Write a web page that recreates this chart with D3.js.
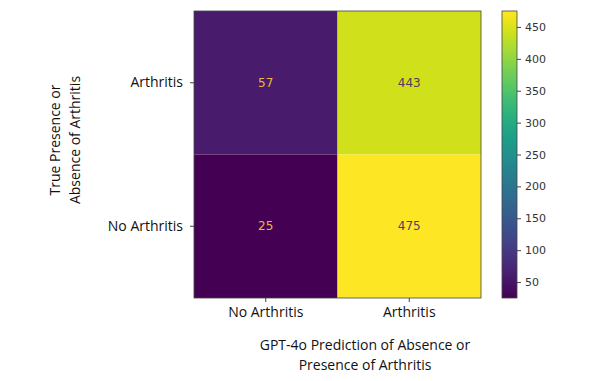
<!DOCTYPE html>
<html>
<head>
<meta charset="utf-8">
<script src="https://cdn.jsdelivr.net/npm/d3@7"></script>
<style>
  body { margin: 0; background: #fff; }
  .lbl { font-family: "Open Sans", "Noto Sans", sans-serif; font-size: 14px; fill: #111; }
  .cbar text { font-family: "DejaVu Sans", sans-serif; font-size: 11px; fill: #333; }
</style>
</head>
<body>
<div id="chart"></div>
<script>
// confusion matrix values
const rowLabels = ["Arthritis", "No Arthritis"];     // true (top to bottom)
const colLabels = ["No Arthritis", "Arthritis"];     // predicted (left to right)
const counts = [
  [57, 443],
  [25, 475]
];
const cbarTicks = [50, 100, 150, 200, 250, 300, 350, 400, 450];

const width = 600, height = 381;
const plot = {left: 194, top: 11, right: 481, bottom: 298};

const svg = d3.select("#chart").append("svg")
  .attr("width", width)
  .attr("height", height);

const cells = [];
counts.forEach((row, i) => row.forEach((v, j) => cells.push({r: rowLabels[i], c: colLabels[j], v: v})));

const vmin = d3.min(cells, d => d.v), vmax = d3.max(cells, d => d.v);
const color = d3.scaleSequential(d3.interpolateViridis).domain([vmin, vmax]);

const x = d3.scaleBand().domain(colLabels).range([plot.left, plot.right]);
const y = d3.scaleBand().domain(rowLabels).range([plot.top, plot.bottom]);

// cells
svg.append("g")
  .selectAll("rect")
  .data(cells)
  .join("rect")
  .attr("x", d => x(d.c))
  .attr("y", d => y(d.r))
  .attr("width", x.bandwidth())
  .attr("height", y.bandwidth())
  .attr("fill", d => color(d.v));

// annotations - light text on dark cells, dark on light
const mid = (vmin + vmax) / 2;
svg.append("g")
  .selectAll("text")
  .data(cells)
  .join("text")
  .attr("x", d => x(d.c) + x.bandwidth() / 2)
  .attr("y", d => y(d.r) + y.bandwidth() / 2)
  .attr("dy", "0.35em")
  .attr("text-anchor", "middle")
  .style("font-family", "DejaVu Sans, sans-serif")
  .style("font-size", "12px")
  .attr("fill", d => d.v < mid ? "#e8b840" : "#5a3a5a")
  .text(d => d.v);

// frame
svg.append("rect")
  .attr("x", plot.left).attr("y", plot.top)
  .attr("width", plot.right - plot.left).attr("height", plot.bottom - plot.top)
  .attr("fill", "none").attr("stroke", "#444").attr("stroke-width", 0.8);

// x axis
const xAxis = svg.append("g")
  .attr("transform", `translate(0,${plot.bottom})`)
  .call(d3.axisBottom(x).tickSize(4).tickPadding(5));
xAxis.select(".domain").remove();
xAxis.attr("font-size", null).attr("font-family", null);
xAxis.selectAll(".tick line").attr("stroke", "#444");
xAxis.selectAll("text").attr("class", "lbl").attr("fill", null);

// y axis
const yAxis = svg.append("g")
  .attr("transform", `translate(${plot.left},0)`)
  .call(d3.axisLeft(y).tickSize(4).tickPadding(7));
yAxis.select(".domain").remove();
yAxis.attr("font-size", null).attr("font-family", null);
yAxis.selectAll(".tick line").attr("stroke", "#444");
yAxis.selectAll("text").attr("class", "lbl").attr("fill", null);

// axis titles
svg.append("text").attr("class", "lbl")
  .attr("text-anchor", "middle")
  .attr("transform", "translate(55,140) rotate(-90)")
  .selectAll("tspan")
  .data(["True Presence or", "Absence of Arthritis"])
  .join("tspan")
  .attr("x", 0)
  .attr("dy", (d, i) => i === 0 ? "0.35em" : "1.45em")
  .text(d => d);

svg.append("text").attr("class", "lbl")
  .attr("text-anchor", "middle")
  .attr("transform", "translate(365,345)")
  .selectAll("tspan")
  .data(["GPT-4o Prediction of Absence or", "Presence of Arthritis"])
  .join("tspan")
  .attr("x", 0)
  .attr("dy", (d, i) => i === 0 ? "0.35em" : "1.45em")
  .text(d => d);

// colorbar
const cb = {left: 502, width: 15};
const cy = d3.scaleLinear().domain([vmin, vmax]).range([plot.bottom, plot.top]);
const grad = svg.append("defs").append("linearGradient")
  .attr("id", "cbgrad")
  .attr("x1", 0).attr("y1", 1).attr("x2", 0).attr("y2", 0);
grad.selectAll("stop")
  .data(d3.range(0, 21).map(i => i / 20))
  .join("stop")
  .attr("offset", d => d)
  .attr("stop-color", d => d3.interpolateViridis(d));
const cbar = svg.append("g").attr("class", "cbar");
cbar.append("rect")
  .attr("x", cb.left).attr("y", plot.top)
  .attr("width", cb.width).attr("height", plot.bottom - plot.top)
  .attr("fill", "url(#cbgrad)").attr("stroke", "#444").attr("stroke-width", 0.8);
const cAxis = cbar.append("g")
  .attr("transform", `translate(${cb.left + cb.width},0)`)
  .call(d3.axisRight(cy).tickValues(cbarTicks).tickSize(4).tickPadding(4));
cAxis.select(".domain").remove();
cAxis.attr("font-size", null).attr("font-family", null);
cAxis.selectAll(".tick line").attr("stroke", "#444");
</script>
</body>
</html>
